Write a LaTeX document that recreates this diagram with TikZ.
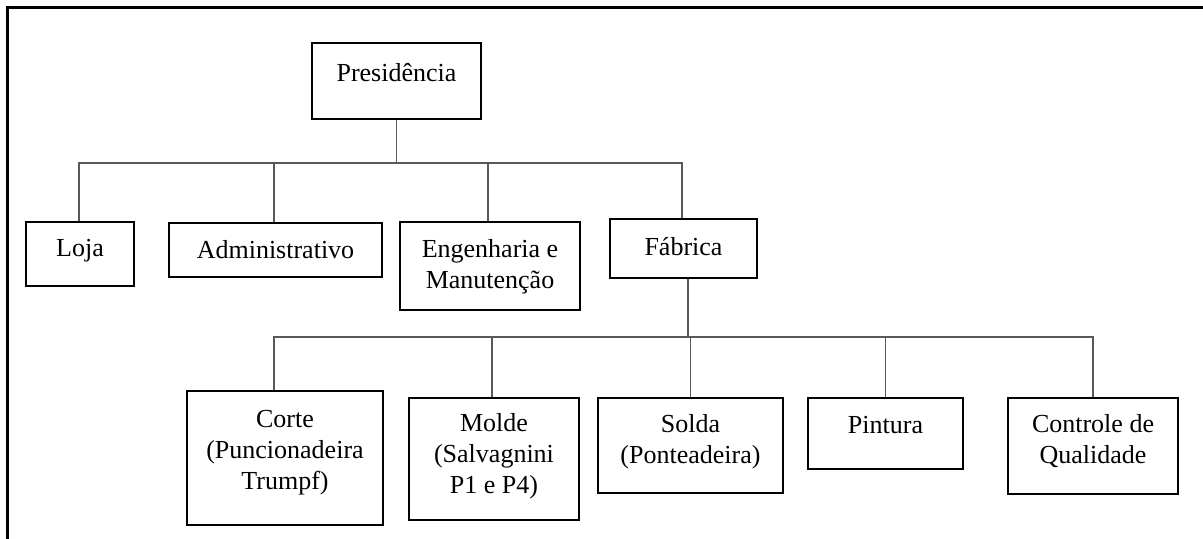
\documentclass[tikz,border=0pt]{standalone}
\usepackage{fontspec}
\setmainfont{Liberation Serif}
\begin{document}
\begin{tikzpicture}[x=0.5pt,y=-0.5pt,
  box/.style={draw=black,line width=1.25pt,fill=white,inner sep=0pt},
  txt/.style={font=\fontsize{13pt}{15.5pt}\selectfont,align=center,inner sep=0pt},
  link/.style={draw=black!65,line width=0.75pt},
  frame/.style={draw=black,line width=1.2pt}]
\useasboundingbox (0,0) rectangle (1203,539);

% outer frame (top and left edges)
\draw[frame] (7.5,539) -- (7.5,7.5) -- (1203,7.5);

% top level
\node[box,minimum width=84.5pt,minimum height=38pt] (pres) at (396.5,81) {};
\node[txt] (pres-t) at (396.5,73) {Presidência};

% second level
\node[box,minimum width=54pt,minimum height=32pt] (loja) at (80,254) {};
\node[txt] (loja-t) at (80,251) {Loja};
\node[box,minimum width=106.5pt,minimum height=27pt] (adm) at (275.5,250) {};
\node[txt] (adm-t) at (275.5,250) {Administrativo};
\node[box,minimum width=90pt,minimum height=44pt] (eng) at (490,266) {};
\node[txt] (eng-t) at (490,267) {Engenharia e\\Manutenção};
\node[box,minimum width=73.5pt,minimum height=29.5pt] (fab) at (683.5,248.5) {};
\node[txt] (fab-t) at (683.5,247) {Fábrica};

% third level
\node[box,minimum width=98pt,minimum height=67pt] (corte) at (285,458) {};
\node[txt] (corte-t) at (285,453) {Corte\\(Puncionadeira\\Trumpf)};
\node[box,minimum width=85pt,minimum height=61pt] (molde) at (494,459) {};
\node[txt] (molde-t) at (494,456) {Molde\\(Salvagnini\\P1 e P4)};
\node[box,minimum width=92.5pt,minimum height=47.5pt] (solda) at (690.5,445.5) {};
\node[txt] (solda-t) at (690.5,441.5) {Solda\\(Ponteadeira)};
\node[box,minimum width=77.5pt,minimum height=35.5pt] (pint) at (885.5,433.5) {};
\node[txt] (pint-t) at (885.5,425) {Pintura};
\node[box,minimum width=85pt,minimum height=48pt] (ctrl) at (1093,446) {};
\node[txt] (ctrl-t) at (1093,441) {Controle de\\Qualidade};

% bus levels
\coordinate (bus1) at (0,163);
\coordinate (bus2) at (0,337);

% connectors from Presidência
\draw[link] (pres.south) -- (pres.south |- bus1);
\draw[link] ([xshift=-0.5pt]loja.north) -- ([xshift=-0.5pt]loja.north |- bus1)
  -- ([xshift=-0.75pt]fab.north |- bus1) -- ([xshift=-0.75pt]fab.north);
\draw[link] ([xshift=-0.75pt]adm.north) -- ([xshift=-0.75pt]adm.north |- bus1);
\draw[link] ([xshift=-1pt]eng.north) -- ([xshift=-1pt]eng.north |- bus1);

% connectors from Fábrica
\draw[link] ([xshift=2.25pt]fab.south) -- ([xshift=2.25pt]fab.south |- bus2);
\draw[link] ([xshift=-5.5pt]corte.north) -- ([xshift=-5.5pt]corte.north |- bus2)
  -- (ctrl.north |- bus2) -- (ctrl.north);
\draw[link] ([xshift=-1pt]molde.north) -- ([xshift=-1pt]molde.north |- bus2);
\draw[link] (solda.north) -- (solda.north |- bus2);
\draw[link] (pint.north) -- (pint.north |- bus2);
\end{tikzpicture}
\end{document}
